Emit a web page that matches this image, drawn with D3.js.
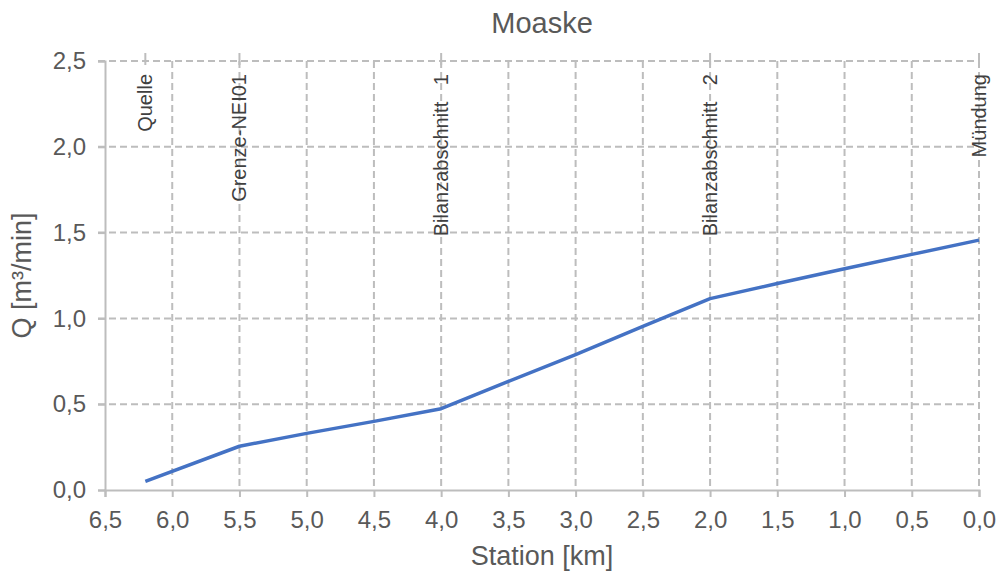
<!DOCTYPE html>
<html><head><meta charset="utf-8">
<script src="https://cdn.jsdelivr.net/npm/d3@7"></script>
<style>body{margin:0;background:#fff}svg{display:block;font-family:"Liberation Sans",Arial,sans-serif}</style>
</head><body><svg id="c" width="1002" height="571"></svg>
<script>
const title = "Moaske";
const xLabel = "Station [km]";
const yLabel = "Q [m³/min]";
const stations = [6.2, 5.5, 5.0, 4.5, 4.0, 3.5, 3.0, 2.5, 2.0, 1.5, 1.0, 0.5, 0.0];
const discharge = [0.05, 0.255, 0.33, 0.40, 0.474, 0.633, 0.789, 0.954, 1.115, 1.203, 1.289, 1.373, 1.456];
const markerNames = ["Quelle", "Grenze-NEI01", "Bilanzabschnitt   1", "Bilanzabschnitt   2", "Mündung"];
const markerStations = [6.2, 5.5, 4.0, 2.0, 0.0];
const xTicks = [6.5, 6.0, 5.5, 5.0, 4.5, 4.0, 3.5, 3.0, 2.5, 2.0, 1.5, 1.0, 0.5, 0.0];
const yTicks = [0.0, 0.5, 1.0, 1.5, 2.0, 2.5];

const svg = d3.select("#c");
const L = 105, R = 979, T = 61, B = 490;
const x = d3.scaleLinear().domain([6.5, 0]).range([L, R]);
const y = d3.scaleLinear().domain([0, 2.5]).range([B, T]);
const fmt = v => d3.format(".1f")(v).replace(".", ",");
const grid = "#bdbdbd", txt = "#595959";

// gridlines
svg.append("g").selectAll("line").data(yTicks.filter(v => v > 0)).join("line")
  .attr("x1", L - 7).attr("x2", R).attr("y1", d => y(d)).attr("y2", d => y(d))
  .attr("stroke", grid).attr("stroke-width", 2).attr("stroke-dasharray", "7,4");
svg.append("g").selectAll("line").data(xTicks.filter(v => v < 6.5)).join("line")
  .attr("x1", d => x(d)).attr("x2", d => x(d)).attr("y1", T).attr("y2", B)
  .attr("stroke", grid).attr("stroke-width", 2).attr("stroke-dasharray", "7,4");

// axes
const ya = svg.append("g").attr("transform", `translate(${L},0)`)
  .call(d3.axisLeft(y).tickValues(yTicks).tickFormat(fmt).tickSize(7).tickPadding(12));
const xa = svg.append("g").attr("transform", `translate(0,${B})`)
  .call(d3.axisBottom(x).tickValues(xTicks).tickFormat(fmt).tickSize(7).tickPadding(12));
[ya, xa].forEach(a => {
  a.select(".domain").attr("stroke", grid).attr("stroke-width", 2);
  a.selectAll(".tick line").attr("stroke", grid).attr("stroke-width", 2);
  a.selectAll("text").attr("fill", txt).attr("font-size", 24).attr("font-family", '"Liberation Sans",Arial,sans-serif');
});
xa.selectAll("text").attr("dy", "0.78em");

// top marker ticks
svg.append("g").selectAll("line").data(markerStations).join("line")
  .attr("x1", d => x(d)).attr("x2", d => x(d)).attr("y1", T - 8).attr("y2", T + 4)
  .attr("stroke", grid).attr("stroke-width", 2);

// marker labels
svg.append("g").selectAll("text").data(markerNames).join("text")
  .attr("transform", (d, i) => `translate(${x(markerStations[i]) + 7},74) rotate(-90)`)
  .attr("text-anchor", "end").attr("font-size", 20).attr("fill", "#404040")
  .style("white-space", "pre").text(d => d);

// line
svg.append("path").datum(stations.map((s, i) => [s, discharge[i]]))
  .attr("fill", "none").attr("stroke", "#4472C4").attr("stroke-width", 3.5)
  .attr("stroke-linejoin", "round")
  .attr("d", d3.line().x(d => x(d[0])).y(d => y(d[1])));

// titles
svg.append("text").attr("x", (L + R) / 2).attr("y", 33).attr("text-anchor", "middle")
  .attr("font-size", 29).attr("fill", txt).text(title);
svg.append("text").attr("x", (L + R) / 2).attr("y", 565).attr("text-anchor", "middle")
  .attr("font-size", 27).attr("fill", txt).text(xLabel);
svg.append("text").attr("transform", `translate(31,${(T + B) / 2}) rotate(-90)`)
  .attr("text-anchor", "middle").attr("font-size", 27).attr("fill", txt).text(yLabel);
</script></body></html>
